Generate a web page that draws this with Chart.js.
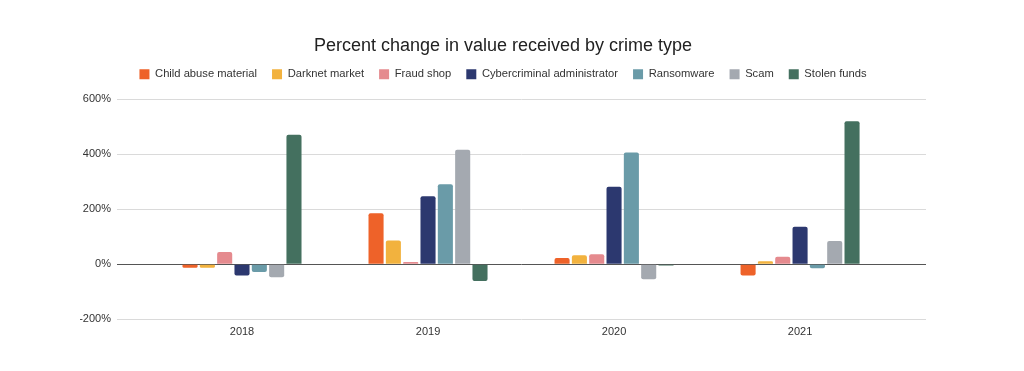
<!DOCTYPE html>
<html>
<head>
<meta charset="utf-8">
<script src="https://cdn.jsdelivr.net/npm/chart.js@4/dist/chart.umd.min.js"></script>
<style>
  html, body { margin: 0; padding: 0; background: #fff; }
  #wrap { width: 1024px; height: 371px; }
</style>
</head>
<body>
<div id="wrap"><canvas id="chart" width="1024" height="371"></canvas></div>
<script>
var years = [2018, 2019, 2020, 2021];
var childAbuse = [-13, 185, 23, -41];
var darknet = [-13, 86, 33, 11];
var fraudShop = [44, 8, 36, 27];
var cyberAdmin = [-41, 247, 281, 136];
var ransomware = [-28, 290, 406, -15];
var scam = [-47, 416, -55, 84];
var stolenFunds = [470, -61, -5, 519];
var yTicks = [-200, 0, 200, 400, 600];

function pts(vals) {
  return years.map(function (yr, i) { return { x: yr, y: vals[i] }; });
}
function series(label, vals, color) {
  return {
    label: label,
    data: pts(vals),
    backgroundColor: color,
    borderWidth: 0,
    borderRadius: 2,
    categoryPercentage: 0.652,
    barPercentage: 0.87
  };
}

// push the plot area down a bit below the legend
var legendGap = {
  id: 'legendGap',
  beforeInit: function (chart) {
    var fit = chart.legend.fit;
    chart.legend.fit = function () {
      fit.bind(chart.legend)();
      this.height += 9.2;
    };
  }
};

var font = 'Arial, "Liberation Sans", sans-serif';
var ctx = document.getElementById("chart").getContext('2d');
var chart = new Chart(ctx, {
  type: 'bar',
  data: {
    datasets: [
      series('Child abuse material', childAbuse, '#EE6229'),
      series('Darknet market', darknet, '#F2B23E'),
      series('Fraud shop', fraudShop, '#E58A8E'),
      series('Cybercriminal administrator', cyberAdmin, '#2C386F'),
      series('Ransomware', ransomware, '#6A9BA8'),
      series('Scam', scam, '#A4A9B0'),
      series('Stolen funds', stolenFunds, '#44705F')
    ]
  },
  plugins: [legendGap],
  options: {
    responsive: false,
    animation: false,
    layout: { padding: { left: 80, right: 98, top: 0, bottom: 26.5 } },
    plugins: {
      title: {
        display: true,
        text: 'Percent change in value received by crime type',
        color: '#222',
        font: { family: font, size: 18, weight: 'normal', lineHeight: 0.85 },
        padding: { top: 38.3, bottom: 0 }
      },
      legend: {
        position: 'top',
        labels: {
          boxWidth: 10,
          boxHeight: 10,
          padding: 15,
          color: '#333',
          font: { family: font, size: 11.2 }
        }
      },
      tooltip: { enabled: false }
    },
    scales: {
      x: {
        type: 'linear',
        offset: false,
        min: 2017.328,
        max: 2021.677,
        afterBuildTicks: function (s) {
          s.ticks = years.map(function (y) { return { value: y }; });
        },
        grid: { display: false, drawTicks: false, offset: false },
        border: { display: false },
        ticks: {
          padding: 6,
          color: '#333',
          font: { family: font, size: 11 },
          callback: function (v) { return String(v); }
        }
      },
      y: {
        min: -200,
        max: 600,
        afterBuildTicks: function (s) {
          s.ticks = yTicks.map(function (v) { return { value: v }; });
        },
        afterFit: function (s) { s.width = 37; },
        border: { display: false },
        grid: {
          drawTicks: false,
          color: function (c) { return c.tick && c.tick.value === 0 ? '#555' : '#dadada'; }
        },
        ticks: {
          padding: 6,
          color: '#333',
          font: { family: font, size: 11 },
          callback: function (v) { return v + '%'; }
        }
      }
    }
  }
});
</script>
</body>
</html>
